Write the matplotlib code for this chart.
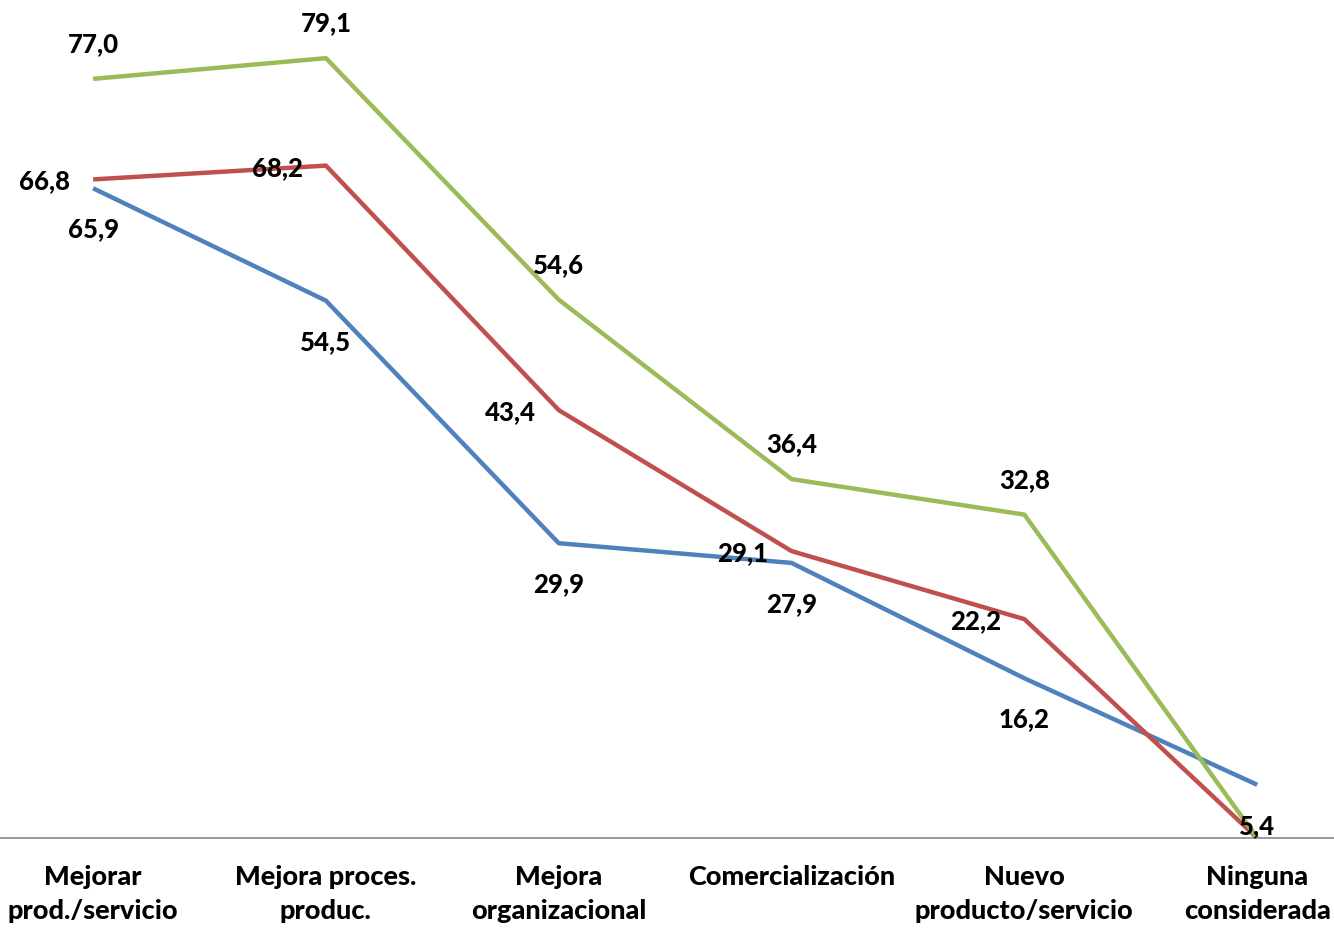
import matplotlib
matplotlib.use("Agg")
import matplotlib.pyplot as plt

categories = ["Mejorar\nprod./servicio", "Mejora proces.\nproduc.", "Mejora\norganizacional",
              "Comercialización", "Nuevo\nproducto/servicio", "Ninguna\nconsiderada"]
serie_azul = [65.9, 54.5, 29.9, 27.9, 16.2, 5.4]
serie_roja = [66.8, 68.2, 43.4, 29.1, 22.2, 0.0]
serie_verde = [77.0, 79.1, 54.6, 36.4, 32.8, 0.0]

plt.rcParams["font.family"] = ["Lato", "DejaVu Sans"]
W = 900

fig = plt.figure(figsize=(13.34, 9.29), dpi=100)
ax = fig.add_axes([0, 0.0969, 1, 0.9031])
x = list(range(len(categories)))

ax.plot(x, serie_azul, color="#4F81BD", lw=3.2, solid_capstyle="butt", zorder=2)
ax.plot(x, serie_roja, color="#C0504D", lw=3.2, solid_capstyle="butt", zorder=2)
ax.plot(x, serie_verde, color="#9BBB59", lw=3.2, solid_capstyle="butt", zorder=2)

def fmt(v):
    return f"{v:.1f}".replace(".", ",")

lab = dict(fontsize=18.5, fontweight=W, textcoords="offset pixels", zorder=5, clip_on=False)
for i, v in enumerate(serie_azul):
    ax.annotate(fmt(v), (i, v), xytext=(0, -40), ha="center", va="center", **lab)
for i, v in enumerate(serie_roja):
    if v > 0:
        ax.annotate(fmt(v), (i, v), xytext=(-23, -1), ha="right", va="center", **lab)
for i, v in enumerate(serie_verde):
    if v > 0:
        ax.annotate(fmt(v), (i, v), xytext=(0, 36), ha="center", va="center", **lab)

ax.set_xlim(-0.4, 5.33)
ax.set_ylim(0, 85.1)
ax.set_xticks(x)
ax.set_xticklabels(categories, fontsize=19.5, fontweight=W, linespacing=1.5)
ax.tick_params(axis="x", length=0, pad=19)
ax.set_yticks([])
for s in ["top", "left", "right"]:
    ax.spines[s].set_visible(False)
ax.spines["bottom"].set_color("#868686")
ax.spines["bottom"].set_linewidth(1.2)
ax.patch.set_visible(False)

fig.savefig("out.png", dpi=100)
